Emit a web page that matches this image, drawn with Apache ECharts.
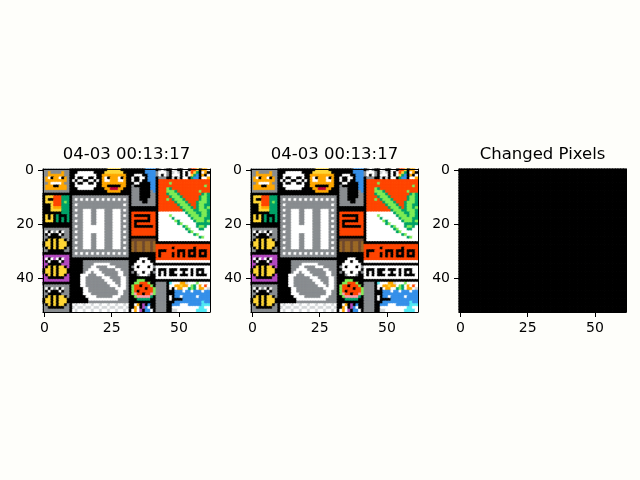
<!DOCTYPE html>
<html>
<head>
<meta charset="utf-8">
<script src="https://cdn.jsdelivr.net/npm/echarts@6/dist/echarts.min.js"></script>
<style>
html, body { margin: 0; padding: 0; background: #fefefa; }
#main { width: 640px; height: 480px; }
</style>
</head>
<body>
<div id="main"></div>
<script>
// panel titles and tick positions (pixel indices)
var titles = ['04-03 00:13:17', '04-03 00:13:17', 'Changed Pixels'];
var xTicks = [0, 25, 50];
var yTicks = [0, 20, 40];

// colour letters used in the pixel rows below
var palette = {
    k: '#000000', g: '#898d90', d: '#515252', L: '#d4d7d9', w: '#ffffff',
    o: '#ffa800', y: '#ffd635', r: '#ff4500', R: '#be0039', G: '#00a368',
    l: '#7eed56', b: '#3690ea', B: '#2450a4', c: '#51e9f4', p: '#811e9f',
    P: '#b44ac0', n: '#6d482f', N: '#9c6926', s: '#ff99aa'
};

// canvas snapshot, read as four column blocks (cols 0-9, 11-31, 33-41, 42-61)
var leftTiles = [
    'gggggggggg', 'ggoggggogg', 'ggoooooogg', 'gowkoowkog', 'goooooooog',
    'ggowwwwogg', 'goookkooog', 'goooooooog', 'gggggggggg', 'kkkkkkkkkk',
    'kyyyrrrGGG', 'kykkrrrGGG', 'kyyyrrrGlG', 'kkkyrrrGGG', 'kkkyoooGGG',
    'kkkyyyyGGG', 'kkkkkkkGGG', 'kykykGkkkG', 'kykykGkGkG', 'kyyykGkGkG',
    'kkkkkkkkkk', 'kkkkkkkkkk',
    'gggggggggg', 'gwkwgwkwgg', 'gkwkkkwkgg', 'ggkkkkkggg', 'gkykykyykg',
    'kyykykyyyk', 'kyykykyyyk', 'gkykykyykg', 'ggkkkkkkgg', 'kkkkkkkkkk',
    'PPPPPPPPPP', 'PwkwPwkwPP', 'PkwkkkwkPP', 'PPkkkkkPPP', 'PkykykyykP',
    'kyykykyyyk', 'kyykykyyyk', 'PkykykyykP', 'PPkkkkkkPP', 'PPPPPPPPPP',
    'kkkkkkkkkk',
    'gggggggggg', 'gwkwgwkwgg', 'gkwkkkwkgg', 'ggkkkkkggg', 'gkykykyykg',
    'kyykykyyyk', 'kyykykyyyk', 'gkykykyykg', 'ggkkkkkkgg', 'gggggggggg'
];

var middleTiles = [
    'kkkkkkkkkkkkkyyyyykkk', 'kkwwwwwwkkkkyyyyyyykk', 'kwwwwwwwwkkoooooooook',
    'kwkkwwkkwkkowkooowkok', 'wkwwkkwwkwkowwooowwok', 'kwkkwwkkwkkoooooooook',
    'kwwwwwwwwkkookkkkkook', 'kkwwwwwwkkkkooRRRookk', 'kkkkkkkkkkkkkoooookkk',
    'kkkkkkkkkkkkkkkkkkkkk',
    'ggggggggggggggggggggg', 'gwgwgwgwgwgwgwgwgwgwg', 'ggggggggggggggggggggg',
    'gwgggggggggggggggggwg', 'ggggggggggggggggggggg',
    'gwggwwwggwwwgggwwwgwg', 'ggggwwwggwwwgggwwwggg', 'gwggwwwggwwwgggwwwgwg',
    'ggggwwwggwwwgggwwwggg', 'gwggwwwggwwwgggwwwgwg', 'ggggwwwggwwwgggwwwggg',
    'gwggwwwwwwwwgggwwwgwg', 'ggggwwwwwwwwgggwwwggg', 'gwggwwwwwwwwgggwwwgwg',
    'ggggwwwggwwwgggwwwggg', 'gwggwwwggwwwgggwwwgwg', 'ggggwwwggwwwgggwwwggg',
    'gwggwwwggwwwgggwwwgwg', 'ggggwwwggwwwgggwwwggg', 'gwggwwwggwwwgggwwwgwg',
    'ggggggggggggggggggggg', 'gwgwgwgwgwgwgwgwgwgwg', 'ggggggggggggggggggggg',
    'kkkkkkkkkkkkkkkkkkkkk',
    'kkkkggggggggggggggggg', 'kkkkggggwwwwwwggggggg', 'kkkkgggwwggggwwwggggg',
    'kkkkggwwwwggggggwwggg', 'kkkkgwwgwwwggggggwwgg', 'kkkwwwgggwwwgggggwwgg',
    'kkkwwggggggwwwggggwwg', 'kkkwwgggggggwwwgggwwg', 'kkkwwggggggggwwwggwwg',
    'kkkwwgggggggggwwwgwwg', 'kkkkwwggggggggggwwwwg', 'kkkkwwgggggggggggwwgg',
    'kkkkwwwggggggggggwwgg', 'kkkkkwwwwggggggwwwggg', 'kkkkkkwwwwwwwwwwwgggg',
    'kkkkkkggggggggggggggg',
    'wLwwLwwLwwLwwLwwLwwLw', 'LwLLwLLwLLwLLwLLwLLwL', 'wLwwLwwLwwLwwLwwLwwLw'
];

var rightMidTiles = [
    'kkkkkbbbb', 'kkkkkbbbb', 'kwwwkkbbb', 'wkkwwkbbb', 'wkkwkkbbb',
    'kwwkkkkbb', 'gkkkkkkbb', 'gggkkkkbb', 'gggkkkkgb', 'gggkkkkgg',
    'gggkkkkgg', 'gggkkkggg', 'ggggkkggg', 'ggggggggg', 'kkkkkkkkk',
    'kkkkkkkkk', 'rrrrrrrrr', 'rkkkkkkrr', 'rrrrrrkrr', 'rkkkkkkrr',
    'rkrrrrrrr', 'rkkkkkkkr', 'rrrrrrrrr', 'rrrrrrrrr', 'rrrrrrrrr',
    'kkkkkkkkk', 'nnnnnnnnn', 'NnNNnNNnN', 'NnNNnNNnN', 'NnNNnNNnN',
    'NnNNnNNnN', 'kkkkkkkkk', 'kkkkkkkkk', 'kkkwwwkkk', 'kkwwkwwkk',
    'kwwwwwwwk', 'gwkwwwkwg', 'kwwwwwwwk', 'gkwwkwwkg', 'kkgwwwgkk',
    'kkkkkkkkk', 'kklllkkkk', 'kllrrrlkk', 'lrrkrrrlk', 'lrrrrkrrl',
    'lrkrrrrrl', 'lsrrkrrsl', 'klsssssGk', 'kkGGGGGkk', 'kkkkkkkkk',
    'kwokPkbkk', 'kowkPbwkk', 'wowPkbbwk'
];

var rightTiles = [
    'kgwgkkwLkkwwkrrykoow', 'gwwwgkLwLkwkwryGkwok', 'gwkwgkwwwkwkwyGbkokw',
    'kgggkkLkLkwwkGbbkwwo',
    'krrrrrrrrrrrrrrrrrrr', 'krrrrlrrrrrrrrrrrrrr', 'krrrrrrrrrrrrrrrrrlr',
    'krrrlGrrrrrrrrrrrrrr', 'krrrlllGrrrrrrrrlrrr', 'krrrGlllGrrrrrrrrGlG',
    'krrrrGlllGrrrrrrGllG', 'krrrlrGlllGrrrrrGllG', 'krrrrrrGlllGrrrGlllG',
    'krrrrrrrGlllGrrGllGG', 'krrrrrrrrGlllGrGllGl', 'krrrrrrrrrGlllGGlllG',
    'kwwwwwwwwwwGlllGGllG', 'kwwwwlwwwwwwGlllGllG', 'kwwwwwGwwwwwwGllllGG',
    'kwwwwwwlGwwwwwGlllGl', 'kwwwwwwwGlwwwwwGGGGG', 'kwwwwwwwwwGlwwwGllGw',
    'kwwwwwwwwwwGlwwwGGww', 'kwwwwwwwwwwwGlwwwwww', 'kwwwwwwwwwwwwwGlwwww',
    'kwwwwwwwwwwwwwwwGlww', 'kwwwwwwwwwwwwwwwwwww', 'kkkkkkkkkkkkkkkkkkkk',
    'rrrrrrrrrrrrrrrrrrrr', 'rrrrrrkrrrrrrrkrrrrr', 'rkkkrrrrkkkrkkkrkkkr',
    'rkrrrrkrkrkrkrkrkrkr', 'rkrrrrkrkrkrkkkrkkkr', 'rrrrrrrrrrrrrrrrrrrr',
    'wwwwwwwwwwwwwwwwwwww', 'kkkkkkkkkkkkkkkkkkkk', 'wwwwwwwwwwwwwwwwwwww',
    'wkkkwkkkwkkkwkwkkkww', 'wkwkwkkwwwkwwkwkwkww', 'wkwkwkkkwkkkwkwkkkkw',
    'wwwwwwwwwwwwwwwwwwww', 'kkkkkkkkkkkkkkkkkkkk',
    'ggggkcwwwooLwwwlwwww', 'ggggkwwooyoowlGwowrw', 'ggggkwkwoowwGlGwoowL',
    'ggggkkkbbbwbbwbbbwbb', 'ggggkkkbbbbbbbbbbbbb', 'ggggkwkbbwbbbbbwbbbb',
    'ggggkwkkkkbbbbbbbbbb', 'ggggkkkbbbbbbbbbbcbb', 'ggggkkbbbwwwbbbbbccc',
    'ggggkkwwwwwwwwwwccww', 'ggggkkLLwwwwwwwccccw'
];

var nCols = 62, nRows = 53;
var keys = Object.keys(palette);

function fit(s, n) { return (s + 'k'.repeat(n)).slice(0, n); }

function buildRows() {
    var rows = [];
    for (var r = 0; r < nRows; r++) {
        rows.push(fit(leftTiles[r] || '', 10) + 'k' + fit(middleTiles[r] || '', 21) + 'k' +
            fit(rightMidTiles[r] || '', 9) + fit(rightTiles[r] || '', 20));
    }
    return rows;
}

// both snapshots are the same frame
var frameA = buildRows();
var frameB = buildRows();

// a thin border in the cell's own colour hides the seams between cells
function cell(x, y, ch) {
    return { value: [x, y, keys.indexOf(ch)], itemStyle: { borderColor: palette[ch], borderWidth: 0.6 } };
}
function toCells(rows) {
    var out = [];
    rows.forEach(function (row, y) {
        for (var x = 0; x < nCols; x++) out.push(cell(x, y, row[x]));
    });
    return out;
}
function diffCells(a, b) {
    var out = [];
    for (var y = 0; y < nRows; y++) {
        for (var x = 0; x < nCols; x++) out.push(cell(x, y, a[y][x] === b[y][x] ? 'k' : 'w'));
    }
    return out;
}

var panels = [toCells(frameA), toCells(frameB), diffCells(frameA, frameB)];

var xCats = [], yCats = [];
for (var i = 0; i < nCols; i++) xCats.push(String(i));
for (var j = 0; j < nRows; j++) yCats.push(String(j));

var font = 'DejaVu Sans';
var panelLefts = [43, 251, 459];
var panelTop = 169, panelW = 167, panelH = 143;

var grids = [], xAxes = [], yAxes = [], seriesList = [], titleList = [];
panelLefts.forEach(function (left, p) {
    grids.push({ left: left, top: panelTop, width: panelW, height: panelH });
    titleList.push({
        text: titles[p], left: left + panelW / 2, top: 146, textAlign: 'center', padding: 0,
        textStyle: { fontFamily: font, fontSize: 16.5, fontWeight: 'normal', color: '#000' }
    });
    xAxes.push({
        gridIndex: p, type: 'category', data: xCats, position: 'bottom', z: 10,
        axisLine: { show: true, onZero: false, lineStyle: { color: '#000', width: 1 } },
        axisTick: { show: true, alignWithLabel: true, length: 5, lineStyle: { color: '#000' },
            interval: function (idx) { return xTicks.indexOf(idx) >= 0; } },
        axisLabel: { margin: 9, fontFamily: font, fontSize: 14, color: '#000',
            interval: function (idx) { return xTicks.indexOf(idx) >= 0; } },
        splitLine: { show: false }
    });
    xAxes.push({
        gridIndex: p, type: 'value', position: 'top', min: 0, max: 1, z: 10,
        axisLine: { show: true, onZero: false, lineStyle: { color: '#000', width: 1 } },
        axisTick: { show: false }, axisLabel: { show: false }, splitLine: { show: false }
    });
    yAxes.push({
        gridIndex: p, type: 'category', data: yCats, inverse: true, position: 'left', z: 10,
        axisLine: { show: true, onZero: false, lineStyle: { color: '#000', width: 1 } },
        axisTick: { show: true, alignWithLabel: true, length: 5, lineStyle: { color: '#000' },
            interval: function (idx) { return yTicks.indexOf(idx) >= 0; } },
        axisLabel: { margin: 9, fontFamily: font, fontSize: 14, color: '#000',
            interval: function (idx) { return yTicks.indexOf(idx) >= 0; } },
        splitLine: { show: false }
    });
    yAxes.push({
        gridIndex: p, type: 'value', position: 'right', min: 0, max: 1, z: 10,
        axisLine: { show: true, onZero: false, lineStyle: { color: '#000', width: 1 } },
        axisTick: { show: false }, axisLabel: { show: false }, splitLine: { show: false }
    });
    seriesList.push({
        type: 'heatmap', xAxisIndex: p * 2, yAxisIndex: p * 2, data: panels[p],
        progressive: 0, emphasis: { disabled: true }
    });
});

var chart = echarts.init(document.getElementById('main'));
chart.setOption({
    backgroundColor: '#fefefa',
    animation: false,
    title: titleList,
    grid: grids,
    xAxis: xAxes,
    yAxis: yAxes,
    visualMap: {
        type: 'piecewise', show: false, seriesIndex: [0, 1, 2], dimension: 2,
        pieces: keys.map(function (k, i) { return { value: i, color: palette[k] }; })
    },
    series: seriesList
});
</script>
</body>
</html>
